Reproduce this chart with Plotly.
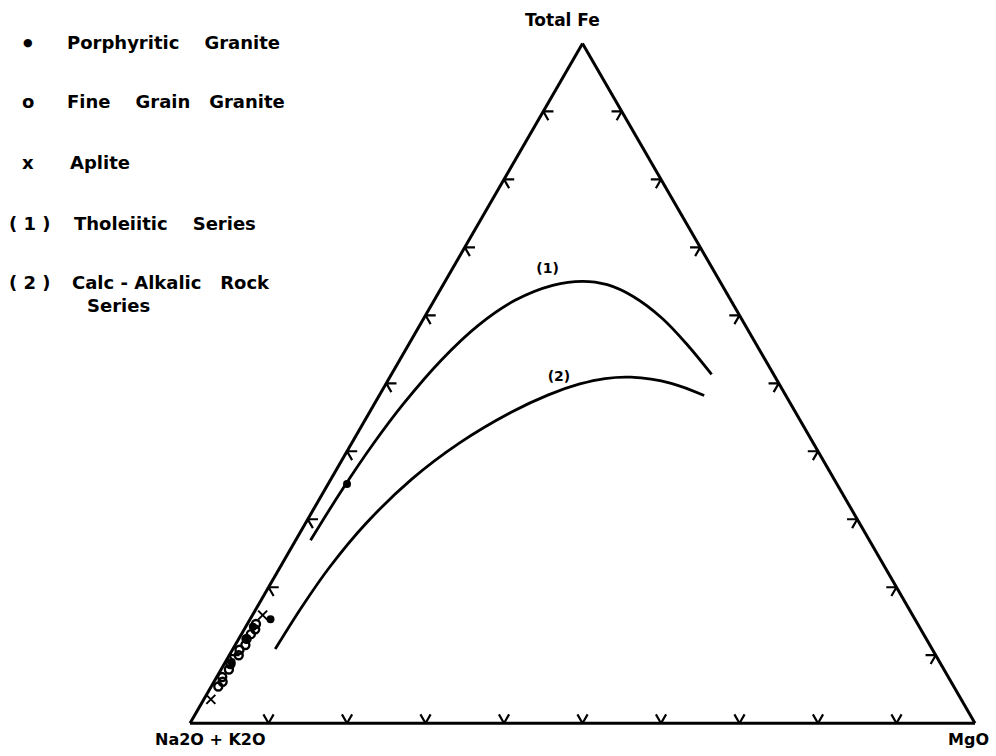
import plotly.graph_objects as go

# ---- AFM compositions (wt %): Total Fe / Na2O+K2O / MgO ----
porph_fe = [15.3, 35.2, 12.4, 9.0, 14.2]
porph_alk = [82.1, 62.4, 86.7, 90.2, 84.9]
porph_mg = [2.6, 2.4, 0.9, 0.8, 0.9]

fine_fe = [5.4, 6.1, 6.8, 7.9, 8.7, 10.0, 10.8, 11.5, 12.4, 13.1, 13.8, 14.6]
fine_alk = [93.7, 92.8, 92.5, 91.1, 90.5, 88.8, 88.3, 87.2, 86.6, 85.7, 84.8, 84.3]
fine_mg = [0.9, 1.1, 0.7, 1.0, 0.8, 1.2, 0.9, 1.3, 1.0, 1.2, 1.4, 1.1]

aplite_fe = [3.5, 15.9]
aplite_alk = [95.6, 82.8]
aplite_mg = [0.9, 1.3]

# (1) Tholeiitic trend
thol_fe = [26.9, 34.2, 41.1, 47.0, 53.4, 58.6, 62.2, 64.4, 65.0, 64.5, 62.8, 59.6, 55.6, 51.3]
thol_alk = [71.2, 63.6, 56.1, 49.3, 41.3, 33.9, 27.5, 21.6, 17.5, 14.6, 12.2, 10.1, 8.8, 7.9]
thol_mg = [1.9, 2.2, 2.8, 3.7, 5.3, 7.5, 10.3, 14.0, 17.5, 20.9, 25.0, 30.3, 35.6, 40.8]

# (2) Calc-alkalic trend
calc_fe = [10.9, 17.2, 22.9, 29.3, 35.9, 41.2, 45.7, 48.3, 49.9, 50.7, 50.9, 50.0, 48.2]
calc_alk = [83.7, 77.1, 70.8, 63.0, 53.8, 45.1, 36.3, 30.2, 25.4, 21.8, 18.4, 13.7, 10.4]
calc_mg = [5.4, 5.7, 6.3, 7.7, 10.3, 13.7, 18.0, 21.5, 24.7, 27.5, 30.7, 36.3, 41.4]

# positions of the curve tags "(1)" and "(2)"
tag_text = ["(1)", "(2)"]
tag_fe = [66.7, 50.8]
tag_alk = [21.1, 27.6]
tag_mg = [12.2, 21.6]

# 10 % tick positions on every side
TICKS = [10, 20, 30, 40, 50, 60, 70, 80, 90]
STUB = 1.3

FONT = "DejaVu Sans, Liberation Sans, sans-serif"
INK = "black"
SP = "\u00a0"

# tick marks: short starts of the two grid lines through each tick point
ta, tb, tc = [], [], []
for t in TICKS:
    edges = [
        # bottom edge (Fe = 0)
        [(STUB, 100 - t - STUB, t), (0, 100 - t, t), (STUB, 100 - t, t - STUB)],
        # left edge (MgO = 0)
        [(t, 100 - t - STUB, STUB), (t, 100 - t, 0), (t - STUB, 100 - t, STUB)],
        # right edge (alkalis = 0)
        [(t, STUB, 100 - t - STUB), (t, 0, 100 - t), (t - STUB, STUB, 100 - t)],
    ]
    for pts in edges:
        for a, b, c in pts:
            ta.append(a)
            tb.append(b)
            tc.append(c)
        ta.append(None)
        tb.append(None)
        tc.append(None)

fig = go.Figure()

fig.add_trace(go.Scatterternary(
    a=ta, b=tb, c=tc, mode="lines", connectgaps=False,
    line=dict(color=INK, width=2.2), hoverinfo="skip"))

fig.add_trace(go.Scatterternary(
    a=thol_fe, b=thol_alk, c=thol_mg, mode="lines",
    line=dict(color=INK, width=2.8, shape="spline", smoothing=1.0),
    name="Tholeiitic Series"))

fig.add_trace(go.Scatterternary(
    a=calc_fe, b=calc_alk, c=calc_mg, mode="lines",
    line=dict(color=INK, width=2.8, shape="spline", smoothing=1.0),
    name="Calc-Alkalic Rock Series"))

fig.add_trace(go.Scatterternary(
    a=fine_fe, b=fine_alk, c=fine_mg, mode="markers",
    marker=dict(symbol="circle-open", size=8, color=INK, line=dict(width=2.4)),
    name="Fine Grain Granite"))

fig.add_trace(go.Scatterternary(
    a=porph_fe, b=porph_alk, c=porph_mg, mode="markers",
    marker=dict(symbol="circle", size=8, color=INK),
    name="Porphyritic Granite"))

fig.add_trace(go.Scatterternary(
    a=aplite_fe, b=aplite_alk, c=aplite_mg, mode="markers",
    marker=dict(symbol="x-thin-open", size=9, color=INK, line=dict(width=2, color=INK)),
    name="Aplite"))

fig.add_trace(go.Scatterternary(
    a=tag_fe, b=tag_alk, c=tag_mg, mode="text", text=tag_text,
    textfont=dict(family=FONT, size=14, color=INK), texttemplate="<b>%{text}</b>",
    hoverinfo="skip"))

axis_style = dict(showticklabels=False, ticks="", showgrid=False,
                  linecolor=INK, linewidth=3, title=dict(text=""))

fig.update_layout(
    width=996, height=756,
    margin=dict(l=0, r=0, t=0, b=0),
    paper_bgcolor="white",
    showlegend=False,
    ternary=dict(
        sum=100,
        domain=dict(x=[0.1908, 0.9789], y=[0.040, 0.946]),
        bgcolor="white",
        aaxis=axis_style, baxis=axis_style, caxis=axis_style,
    ),
    font=dict(family=FONT, color=INK),
)


def label(text, x_px, y_px, size, xanchor="center"):
    text = text.replace(" ", SP)
    fig.add_annotation(text=f"<b>{text}</b>", x=x_px / 996, y=1 - y_px / 756,
                       xref="paper", yref="paper", xanchor=xanchor, yanchor="middle",
                       showarrow=False, font=dict(size=size, family=FONT, color=INK))


# corner names
label("Total Fe", 562, 20, 17)
label("Na2O + K2O", 210, 739, 16)
label("MgO", 968, 739, 16)

# key
label("\u25CF", 28, 42, 11)
label("Porphyritic    Granite", 65, 42, 18, "left")
label("o", 28, 102, 18)
label("Fine    Grain   Granite", 65, 102, 18, "left")
label("x", 28, 163, 18)
label("Aplite", 68, 163, 18, "left")
label("( 1 )", 7, 223, 18, "left")
label("Tholeiitic    Series", 72, 223, 18, "left")
label("( 2 )", 7, 282, 18, "left")
label("Calc - Alkalic   Rock", 70, 282, 18, "left")
label("Series", 85, 305, 18, "left")

fig.write_html("out.html")
